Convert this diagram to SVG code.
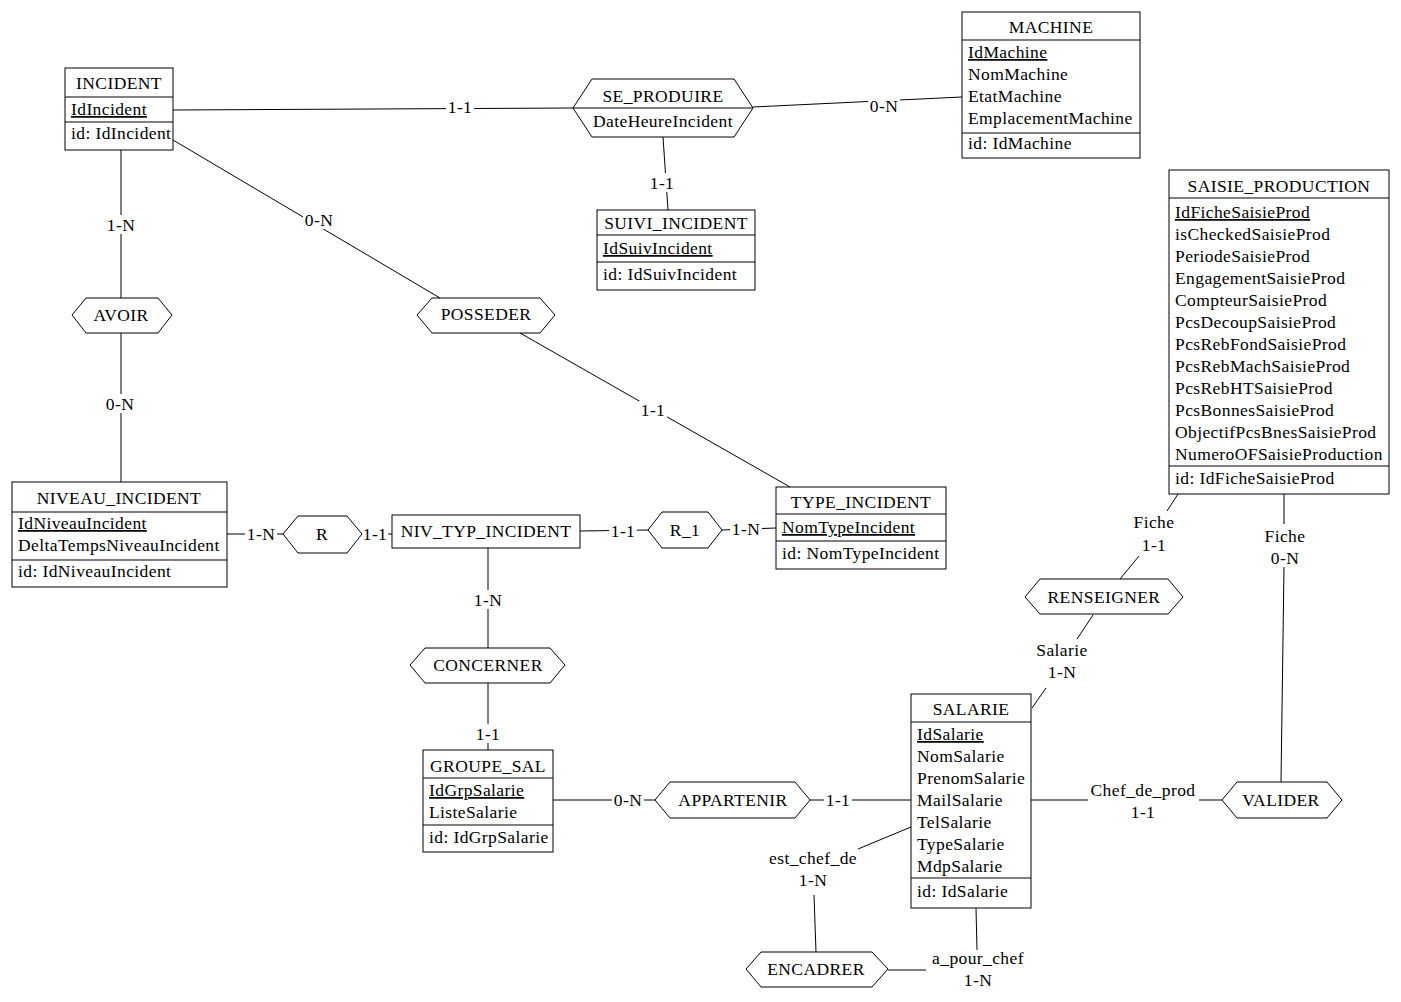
<svg xmlns="http://www.w3.org/2000/svg" width="1401" height="1002" viewBox="0 0 1401 1002">
<style>
.bg{fill:#fff}
.box{fill:#fff;stroke:#000;stroke-width:1}
.div{stroke:#000;stroke-width:1}
.ln{stroke:#000;stroke-width:1;fill:none}
.lb{fill:#fff;stroke:none}
text{font-family:"Liberation Serif","Times New Roman",serif;font-size:17.5px;letter-spacing:0.4px;fill:#000}
.c{text-anchor:middle}
.u{text-decoration:underline}
</style>
<rect class="bg" x="0" y="0" width="1401" height="1002"/>

<g id="INCIDENT">
  <rect class="box" x="65" y="68" width="108" height="82"/>
  <line class="div" x1="65" y1="97" x2="173" y2="97"/>
  <line class="div" x1="65" y1="122" x2="173" y2="122"/>
  <text class="c" x="119" y="89">INCIDENT</text>
  <text class="u" x="71" y="115">IdIncident</text>
  <text x="71" y="139">id: IdIncident</text>
</g>

<g id="SE_PRODUIRE">
  <path class="box" d="M573,108 L592,79 L734,79 L753,108 L734,137 L592,137 Z"/>
  <line class="div" x1="573" y1="108" x2="753" y2="108"/>
  <text class="c" x="663" y="102">SE_PRODUIRE</text>
  <text class="c" x="663" y="127">DateHeureIncident</text>
</g>

<g id="MACHINE">
  <rect class="box" x="962" y="12" width="178" height="146"/>
  <line class="div" x1="962" y1="40" x2="1140" y2="40"/>
  <line class="div" x1="962" y1="133" x2="1140" y2="133"/>
  <text class="c" x="1051" y="33">MACHINE</text>
  <text class="u" x="968" y="58">IdMachine</text>
  <text x="968" y="80">NomMachine</text>
  <text x="968" y="102">EtatMachine</text>
  <text x="968" y="124">EmplacementMachine</text>
  <text x="968" y="149">id: IdMachine</text>
</g>

<g id="SUIVI_INCIDENT">
  <rect class="box" x="597" y="210" width="158" height="80"/>
  <line class="div" x1="597" y1="235" x2="755" y2="235"/>
  <line class="div" x1="597" y1="262" x2="755" y2="262"/>
  <text class="c" x="676" y="229">SUIVI_INCIDENT</text>
  <text class="u" x="603" y="254">IdSuivIncident</text>
  <text x="603" y="280">id: IdSuivIncident</text>
</g>

<g id="SAISIE_PRODUCTION">
  <rect class="box" x="1169" y="170" width="220" height="324"/>
  <line class="div" x1="1169" y1="198" x2="1389" y2="198"/>
  <line class="div" x1="1169" y1="466" x2="1389" y2="466"/>
  <text class="c" x="1279" y="192">SAISIE_PRODUCTION</text>
  <text class="u" x="1175" y="218">IdFicheSaisieProd</text>
  <text x="1175" y="240">isCheckedSaisieProd</text>
  <text x="1175" y="262">PeriodeSaisieProd</text>
  <text x="1175" y="284">EngagementSaisieProd</text>
  <text x="1175" y="306">CompteurSaisieProd</text>
  <text x="1175" y="328">PcsDecoupSaisieProd</text>
  <text x="1175" y="350">PcsRebFondSaisieProd</text>
  <text x="1175" y="372">PcsRebMachSaisieProd</text>
  <text x="1175" y="394">PcsRebHTSaisieProd</text>
  <text x="1175" y="416">PcsBonnesSaisieProd</text>
  <text x="1175" y="438">ObjectifPcsBnesSaisieProd</text>
  <text x="1175" y="460">NumeroOFSaisieProduction</text>
  <text x="1175" y="484">id: IdFicheSaisieProd</text>
</g>

<g id="AVOIR">
  <path class="box" d="M72,315 L86,298 L158,298 L172,315 L158,333 L86,333 Z"/>
  <text class="c" x="121" y="321">AVOIR</text>
</g>

<g id="POSSEDER">
  <path class="box" d="M417,315 L432,298 L540,298 L555,315 L540,333 L432,333 Z"/>
  <text class="c" x="486" y="320">POSSEDER</text>
</g>

<g id="NIVEAU_INCIDENT">
  <rect class="box" x="12" y="482" width="215" height="105"/>
  <line class="div" x1="12" y1="512" x2="227" y2="512"/>
  <line class="div" x1="12" y1="560" x2="227" y2="560"/>
  <text class="c" x="119" y="504">NIVEAU_INCIDENT</text>
  <text class="u" x="18" y="529">IdNiveauIncident</text>
  <text x="18" y="551">DeltaTempsNiveauIncident</text>
  <text x="18" y="577">id: IdNiveauIncident</text>
</g>

<g id="R">
  <path class="box" d="M283,534 L298,516 L347,516 L362,534 L347,553 L298,553 Z"/>
  <text class="c" x="322" y="540">R</text>
</g>

<g id="NIV_TYP_INCIDENT">
  <rect class="box" x="392" y="515" width="188" height="33"/>
  <text class="c" x="486" y="537">NIV_TYP_INCIDENT</text>
</g>

<g id="R_1">
  <path class="box" d="M648,530 L662,512 L708,512 L722,530 L708,548 L662,548 Z"/>
  <text class="c" x="685" y="536">R_1</text>
</g>

<g id="TYPE_INCIDENT">
  <rect class="box" x="776" y="487" width="170" height="82"/>
  <line class="div" x1="776" y1="514" x2="946" y2="514"/>
  <line class="div" x1="776" y1="541" x2="946" y2="541"/>
  <text class="c" x="861" y="508">TYPE_INCIDENT</text>
  <text class="u" x="782" y="533">NomTypeIncident</text>
  <text x="782" y="559">id: NomTypeIncident</text>
</g>

<g id="CONCERNER">
  <path class="box" d="M410,665 L425,648 L550,648 L565,665 L550,683 L425,683 Z"/>
  <text class="c" x="488" y="671">CONCERNER</text>
</g>

<g id="GROUPE_SAL">
  <rect class="box" x="423" y="750" width="130" height="102"/>
  <line class="div" x1="423" y1="778" x2="553" y2="778"/>
  <line class="div" x1="423" y1="825" x2="553" y2="825"/>
  <text class="c" x="488" y="772">GROUPE_SAL</text>
  <text class="u" x="429" y="796">IdGrpSalarie</text>
  <text x="429" y="818">ListeSalarie</text>
  <text x="429" y="843">id: IdGrpSalarie</text>
</g>

<g id="APPARTENIR">
  <path class="box" d="M655,800 L670,782 L795,782 L810,800 L795,818 L670,818 Z"/>
  <text class="c" x="733" y="806">APPARTENIR</text>
</g>

<g id="RENSEIGNER">
  <path class="box" d="M1025,597 L1040,579 L1168,579 L1183,597 L1168,614 L1040,614 Z"/>
  <text class="c" x="1104" y="603">RENSEIGNER</text>
</g>

<g id="SALARIE">
  <rect class="box" x="911" y="694" width="120" height="214"/>
  <line class="div" x1="911" y1="722" x2="1031" y2="722"/>
  <line class="div" x1="911" y1="878" x2="1031" y2="878"/>
  <text class="c" x="971" y="715">SALARIE</text>
  <text class="u" x="917" y="740">IdSalarie</text>
  <text x="917" y="762">NomSalarie</text>
  <text x="917" y="784">PrenomSalarie</text>
  <text x="917" y="806">MailSalarie</text>
  <text x="917" y="828">TelSalarie</text>
  <text x="917" y="850">TypeSalarie</text>
  <text x="917" y="872">MdpSalarie</text>
  <text x="917" y="897">id: IdSalarie</text>
</g>

<g id="VALIDER">
  <path class="box" d="M1222,800 L1237,782 L1327,782 L1342,800 L1327,818 L1237,818 Z"/>
  <text class="c" x="1281" y="806">VALIDER</text>
</g>

<g id="ENCADRER">
  <path class="box" d="M746,969 L761,952 L872,952 L888,969 L872,987 L761,987 Z"/>
  <text class="c" x="816" y="975">ENCADRER</text>
</g>

<g id="connectors">
  <line class="ln" x1="173" y1="110" x2="573" y2="108"/>
  <rect class="lb" x="446" y="99" width="28" height="17"/>
  <text class="c" x="460" y="113">1-1</text>

  <line class="ln" x1="753" y1="107" x2="962" y2="97"/>
  <rect class="lb" x="868" y="98" width="32" height="17"/>
  <text class="c" x="884" y="112">0-N</text>

  <line class="ln" x1="663" y1="137" x2="668" y2="210"/>
  <rect class="lb" x="648" y="173" width="28" height="19"/>
  <text class="c" x="662" y="189">1-1</text>

  <line class="ln" x1="121" y1="150" x2="121" y2="298"/>
  <rect class="lb" x="105" y="215" width="32" height="19"/>
  <text class="c" x="121" y="231">1-N</text>

  <line class="ln" x1="121" y1="333" x2="121" y2="482"/>
  <rect class="lb" x="104" y="394" width="32" height="19"/>
  <text class="c" x="120" y="410">0-N</text>

  <line class="ln" x1="173" y1="140" x2="440" y2="298"/>
  <rect class="lb" x="303" y="211" width="32" height="18"/>
  <text class="c" x="319" y="226">0-N</text>

  <line class="ln" x1="520" y1="333" x2="790" y2="487"/>
  <rect class="lb" x="639" y="401" width="28" height="18"/>
  <text class="c" x="653" y="416">1-1</text>

  <line class="ln" x1="227" y1="534" x2="283" y2="534"/>
  <rect class="lb" x="245" y="526" width="32" height="17"/>
  <text class="c" x="261" y="540">1-N</text>

  <line class="ln" x1="362" y1="534" x2="392" y2="534"/>
  <rect class="lb" x="362" y="526" width="26" height="17"/>
  <text class="c" x="375" y="540">1-1</text>

  <line class="ln" x1="580" y1="531" x2="648" y2="530"/>
  <rect class="lb" x="609" y="523" width="28" height="17"/>
  <text class="c" x="623" y="537">1-1</text>

  <line class="ln" x1="722" y1="530" x2="776" y2="528"/>
  <rect class="lb" x="730" y="521" width="32" height="17"/>
  <text class="c" x="746" y="535">1-N</text>

  <line class="ln" x1="488" y1="548" x2="488" y2="648"/>
  <rect class="lb" x="472" y="590" width="32" height="19"/>
  <text class="c" x="488" y="606">1-N</text>

  <line class="ln" x1="488" y1="683" x2="488" y2="750"/>
  <rect class="lb" x="474" y="724" width="28" height="19"/>
  <text class="c" x="488" y="740">1-1</text>

  <line class="ln" x1="553" y1="800" x2="655" y2="800"/>
  <rect class="lb" x="612" y="792" width="32" height="17"/>
  <text class="c" x="628" y="806">0-N</text>

  <line class="ln" x1="810" y1="800" x2="911" y2="800"/>
  <rect class="lb" x="824" y="792" width="28" height="17"/>
  <text class="c" x="838" y="806">1-1</text>

  <line class="ln" x1="1031" y1="800" x2="1088" y2="800"/>
  <line class="ln" x1="1199" y1="800" x2="1222" y2="800"/>
  <text class="c" x="1143" y="796">Chef_de_prod</text>
  <text class="c" x="1143" y="818">1-1</text>

  <line class="ln" x1="1284" y1="494" x2="1284" y2="524"/>
  <line class="ln" x1="1284" y1="567" x2="1281" y2="782"/>
  <text class="c" x="1285" y="542">Fiche</text>
  <text class="c" x="1285" y="564">0-N</text>

  <line class="ln" x1="1178" y1="494" x2="1167" y2="511"/>
  <line class="ln" x1="1139" y1="556" x2="1120" y2="579"/>
  <text class="c" x="1154" y="528">Fiche</text>
  <text class="c" x="1154" y="551">1-1</text>

  <line class="ln" x1="1093" y1="615" x2="1077" y2="639"/>
  <line class="ln" x1="1046" y1="688" x2="1032" y2="708"/>
  <text class="c" x="1062" y="656">Salarie</text>
  <text class="c" x="1062" y="678">1-N</text>

  <line class="ln" x1="911" y1="827" x2="858" y2="849"/>
  <line class="ln" x1="814" y1="895" x2="816" y2="952"/>
  <text class="c" x="813" y="864">est_chef_de</text>
  <text class="c" x="813" y="886">1-N</text>

  <line class="ln" x1="976" y1="908" x2="977" y2="950"/>
  <line class="ln" x1="888" y1="970" x2="926" y2="970"/>
  <text class="c" x="978" y="964">a_pour_chef</text>
  <text class="c" x="978" y="986">1-N</text>
</g>
</svg>
